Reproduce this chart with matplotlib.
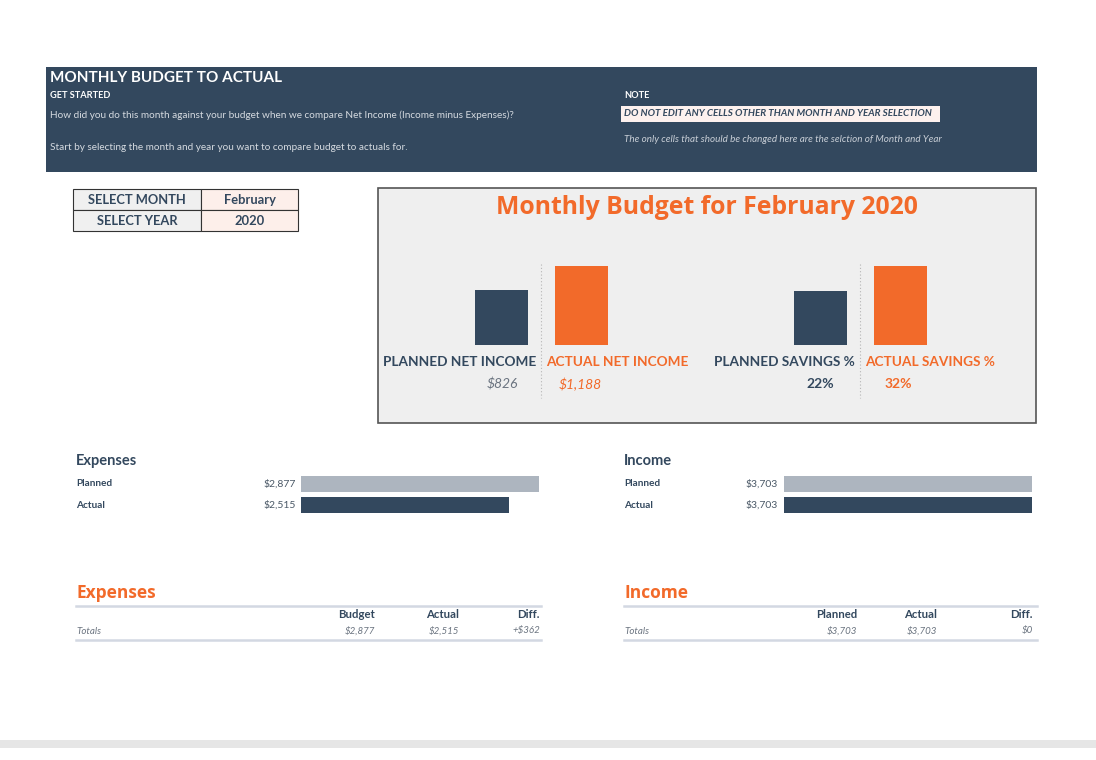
import matplotlib
matplotlib.use("Agg")
import matplotlib.pyplot as plt
from matplotlib.patches import Rectangle

plt.rcParams['font.family'] = ['Lato', 'DejaVu Sans']

# ---- data ----
month = "February"
year = "2020"
net_labels = ["PLANNED NET INCOME", "ACTUAL NET INCOME"]
net_values = [826, 1188]
sav_labels = ["PLANNED SAVINGS %", "ACTUAL SAVINGS %"]
sav_values = [22, 32]
bar_cats = ["Planned", "Actual"]
expense_values = [2877, 2515]
income_values = [3703, 3703]
exp_headers = ["Budget", "Actual", "Diff."]
inc_headers = ["Planned", "Actual", "Diff."]

DARK = "#33485E"
ORANGE = "#F26A2A"
LGRAY = "#ADB5BF"
W, H = 1096, 760

fig = plt.figure(figsize=(W / 100, H / 100), dpi=100)
fig.patch.set_facecolor("white")
ax = fig.add_axes([0, 0, 1, 1])
ax.set_xlim(0, W)
ax.set_ylim(H, 0)
ax.axis("off")


def box(x0, y0, x1, y1, **kw):
    ax.add_patch(Rectangle((x0, y0), x1 - x0, y1 - y0, **kw))


def sub_axes(x0, y0, x1, y1):
    a = fig.add_axes([x0 / W, 1 - y1 / H, (x1 - x0) / W, (y1 - y0) / H])
    a.axis("off")
    return a


def money(v):
    return "${:,.0f}".format(v)


# ---- header ----
box(46, 67, 1037, 172, facecolor=DARK, edgecolor="none")
ax.text(50, 78, "MONTHLY BUDGET TO ACTUAL", color="white", fontsize=11, fontweight="bold", va="center")
ax.text(50, 96, "GET STARTED", color="white", fontsize=6.7, fontweight="bold", va="center")
ax.text(50, 115, "How did you do this month against your budget when we compare Net Income (Income minus Expenses)?",
        color="#D5DAE0", fontsize=7.2, va="center")
ax.text(50, 148, "Start by selecting the month and year you want to compare budget to actuals for.",
        color="#D5DAE0", fontsize=7.2, va="center")
ax.text(624, 96, "NOTE", color="white", fontsize=6.7, fontweight="bold", va="center")
box(621, 106, 940, 122, facecolor="#FDF1EE", edgecolor="none")
ax.text(624, 114, "DO NOT EDIT ANY CELLS OTHER THAN MONTH AND YEAR SELECTION", color=DARK,
        fontsize=7.1, fontweight="bold", fontstyle="italic", va="center")
ax.text(624, 139, "The only cells that should be changed here are the selction of Month and Year",
        color="#C8CED6", fontsize=7.1, fontstyle="italic", va="center")

# ---- select table ----
box(73, 189, 201, 210, facecolor="#F0F0F0", edgecolor="#333333", lw=0.8)
box(73, 210, 201, 231, facecolor="#F0F0F0", edgecolor="#333333", lw=0.8)
box(201, 189, 298, 210, facecolor="#FDEFEA", edgecolor="#333333", lw=0.8)
box(201, 210, 298, 231, facecolor="#FDEFEA", edgecolor="#333333", lw=0.8)
ax.text(137, 200, "SELECT MONTH", color=DARK, fontsize=9.3, fontweight="bold", ha="center", va="center")
ax.text(137, 221, "SELECT YEAR", color=DARK, fontsize=9.3, fontweight="bold", ha="center", va="center")
ax.text(249.5, 200, month, color=DARK, fontsize=9.3, fontweight="bold", ha="center", va="center")
ax.text(249.5, 221, year, color=DARK, fontsize=9.3, fontweight="bold", ha="center", va="center")

# ---- summary panel ----
box(378, 188, 1036, 423, facecolor="#EFEFEF", edgecolor="#555555", lw=1.2)
ax.text(707, 207, "Monthly Budget for {} {}".format(month, year), color=ORANGE, fontsize=17.8,
        fontweight="bold", ha="center", va="center", family=["Open Sans", "DejaVu Sans"])

unit = 80.0
for centers_x, vals in ((501.5, net_values), (820.0, sav_values)):
    x0 = centers_x - unit * 0.5
    a = sub_axes(x0, 250, x0 + 2 * unit, 345)
    a.set_xlim(-0.5, 1.5)
    a.set_ylim(0, max(vals) * 95 / 79)
    a.bar([0, 1], vals, width=53 / unit, color=[DARK, ORANGE])

for xd in (541, 860):
    ax.plot([xd, xd], [264, 398], color="#B5B5B5", lw=0.8, ls=(0, (1, 2)))

ax.text(460, 362, net_labels[0], color=DARK, fontsize=9.8, fontweight="bold", ha="center", va="center")
ax.text(617, 362, net_labels[1], color=ORANGE, fontsize=9.8, fontweight="bold", ha="center", va="center")
ax.text(784, 362, sav_labels[0], color=DARK, fontsize=9.8, fontweight="bold", ha="center", va="center")
ax.text(930, 362, sav_labels[1], color=ORANGE, fontsize=9.8, fontweight="bold", ha="center", va="center")
ax.text(518, 384, money(net_values[0]), color="#6B7480", fontsize=10, fontstyle="italic", ha="right", va="center")
ax.text(559, 384, money(net_values[1]), color=ORANGE, fontsize=10, fontstyle="italic", ha="left", va="center")
ax.text(834, 384, "{}%".format(sav_values[0]), color=DARK, fontsize=10, fontweight="bold", ha="right", va="center")
ax.text(885, 384, "{}%".format(sav_values[1]), color=ORANGE, fontsize=10, fontweight="bold", ha="left", va="center")

# ---- horizontal bar charts ----
def hbar_block(x_label, x_val_right, bx0, bx1, title, vals):
    ax.text(x_label, 461, title, color=DARK, fontsize=10.5, fontweight="bold", va="center")
    for i, (c, v) in enumerate(zip(bar_cats, vals)):
        y = 484 + 21 * i
        ax.text(x_label, y, c, color=DARK, fontsize=7.2, fontweight="bold", va="center")
        ax.text(x_val_right, y, money(v), color="#4A5866", fontsize=7.5, ha="right", va="center")
    a = sub_axes(bx0, 473.5, bx1, 515.5)
    a.set_xlim(0, max(vals))
    a.set_ylim(1.5, -0.5)
    a.barh([0, 1], vals, height=16 / 21, color=[LGRAY, DARK])


hbar_block(76, 296, 301, 539, "Expenses", expense_values)
hbar_block(624, 778, 784, 1032, "Income", income_values)

# ---- totals tables ----
def totals_table(x0, x1, title, headers, cols, vals):
    ax.text(x0, 593, title, color=ORANGE, fontsize=12.5, fontweight="bold", va="center",
            family=["Open Sans", "DejaVu Sans"])
    ax.plot([x0, x1], [606, 606], color="#D3D8E2", lw=1.8)
    ax.plot([x0, x1], [640, 640], color="#D3D8E2", lw=1.8)
    ax.text(x0, 631, "Totals", color="#6B7480", fontsize=7, fontstyle="italic", va="center")
    for h, cx, v in zip(headers, cols, vals):
        ax.text(cx, 615, h, color=DARK, fontsize=8.2, fontweight="bold", ha="right", va="center")
        ax.text(cx, 631, v, color="#6B7480", fontsize=7, fontstyle="italic", ha="right", va="center")


exp_diff = expense_values[0] - expense_values[1]
totals_table(76, 541, "Expenses", exp_headers, [375, 459, 540],
             [money(expense_values[0]), money(expense_values[1]), "+" + money(exp_diff) if exp_diff > 0 else money(exp_diff)])
inc_diff = income_values[1] - income_values[0]
totals_table(624, 1037, "Income", inc_headers, [857, 937, 1033],
             [money(income_values[0]), money(income_values[1]), ("+" if inc_diff > 0 else "") + money(inc_diff)])

# bottom band
box(0, 740, W, 748, facecolor="#E6E6E6", edgecolor="none")

fig.savefig("out.png", dpi=100, facecolor="white")
